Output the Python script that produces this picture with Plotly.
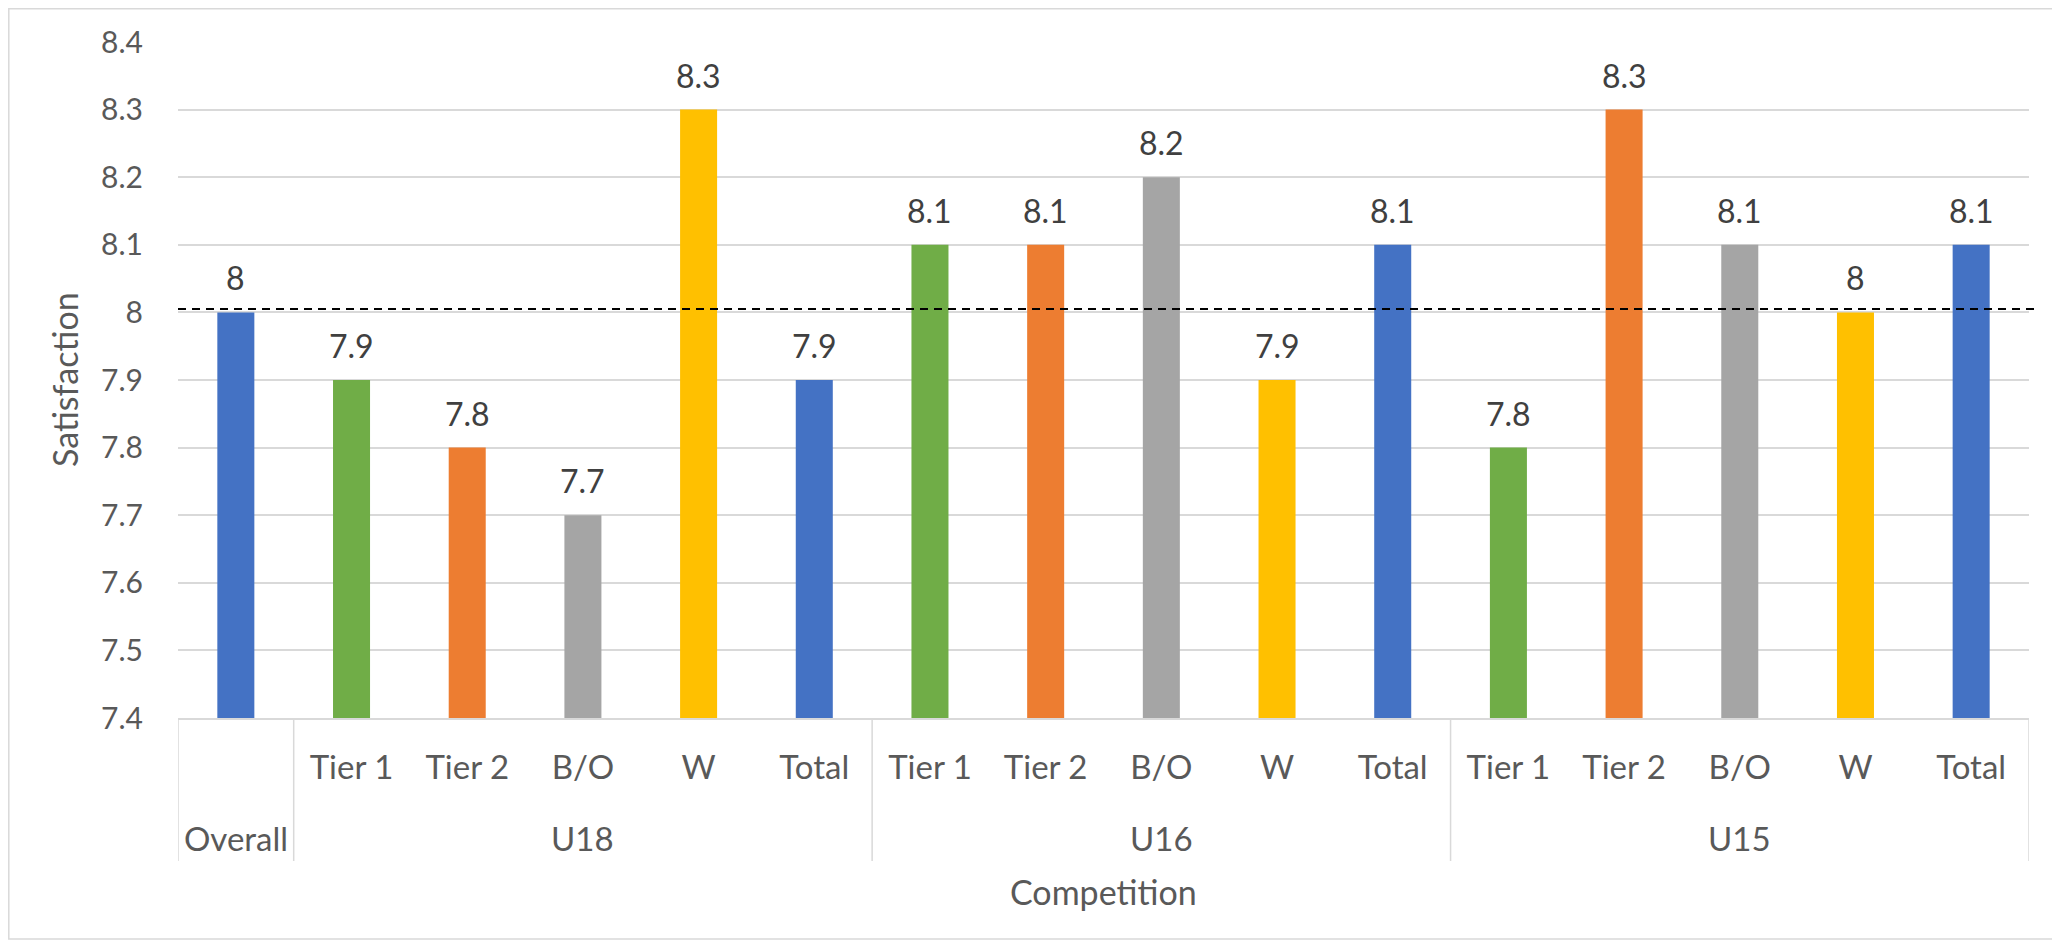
import plotly.graph_objects as go

# ---- data ----
groups = ["Overall", "U18", "U18", "U18", "U18", "U18",
          "U16", "U16", "U16", "U16", "U16",
          "U15", "U15", "U15", "U15", "U15"]
subcats = ["", "Tier 1", "Tier 2", "B/O", "W", "Total",
           "Tier 1", "Tier 2", "B/O", "W", "Total",
           "Tier 1", "Tier 2", "B/O", "W", "Total"]
values = [8.0, 7.9, 7.8, 7.7, 8.3, 7.9,
          8.1, 8.1, 8.2, 7.9, 8.1,
          7.8, 8.3, 8.1, 8.0, 8.1]
value_labels = ["8", "7.9", "7.8", "7.7", "8.3", "7.9",
                "8.1", "8.1", "8.2", "7.9", "8.1",
                "7.8", "8.3", "8.1", "8", "8.1"]
y_tick_vals = [7.4, 7.5, 7.6, 7.7, 7.8, 7.9, 8.0, 8.1, 8.2, 8.3, 8.4]
y_tick_text = ["7.4", "7.5", "7.6", "7.7", "7.8", "7.9", "8", "8.1", "8.2", "8.3", "8.4"]
reference_line = 8.005
y_title = "Satisfaction"
x_title = "Competition"

# ---- styles ----
sub_colors = {"": "#4472C4", "Tier 1": "#70AD47", "Tier 2": "#ED7D31",
              "B/O": "#A5A5A5", "W": "#FFC000", "Total": "#4472C4"}
FONT = "Lato"
TXT = "#595959"
LBL = "#404040"
GRID = "#D9D9D9"

# page has an 8px body margin, so the figure is 8px smaller and offset
OFF = 8
W, H = 2060 - OFF, 942 - OFF
L, T = 178 - OFF, 42 - OFF
R = W - (2029 - OFF)
B = H - (718 - OFF)
pw, ph = W - L - R, H - T - B


def px_x(p):  # page pixel -> paper x
    return (p - OFF - L) / pw


def px_y(p):  # page pixel -> paper y
    return (H - B - (p - OFF)) / ph


xs = list(range(len(values)))
colors = [sub_colors[s] for s in subcats]

fig = go.Figure()
fig.add_trace(go.Bar(
    x=xs, y=values, width=0.32,
    marker=dict(color=colors, line=dict(width=0)),
    showlegend=False, hoverinfo="skip",
))

# data labels
for x, v, t in zip(xs, values, value_labels):
    fig.add_annotation(x=x, y=v, text=t, showarrow=False, yanchor="bottom",
                       yshift=13, font=dict(family=FONT, size=32, color=LBL))

# group labels and dividers
bounds = [0]
for i in range(1, len(groups)):
    if groups[i] != groups[i - 1]:
        bounds.append(i)
bounds.append(len(groups))
for a, b in zip(bounds[:-1], bounds[1:]):
    mid = (a + b - 1) / 2
    fig.add_annotation(x=mid, y=0, xref="x", yref="paper", text=groups[a],
                       showarrow=False, yanchor="middle", yshift=-120,
                       font=dict(family=FONT, size=33, color=TXT))
for bnd in bounds:
    fig.add_shape(type="line", xref="x", yref="paper",
                  x0=bnd - 0.5, x1=bnd - 0.5, y0=0, y1=px_y(861),
                  line=dict(color=GRID, width=1.5))

# reference dashed line
fig.add_shape(type="line", xref="paper", yref="y",
              x0=0, x1=px_x(2040), y0=reference_line, y1=reference_line,
              line=dict(color="black", width=2, dash="8px,6px"))

# outer chart border
fig.add_shape(type="rect", xref="paper", yref="paper",
              x0=px_x(8.8), x1=px_x(2058), y0=px_y(939), y1=px_y(8.8),
              line=dict(color=GRID, width=1.5), fillcolor="rgba(0,0,0,0)")

# axis titles
fig.add_annotation(x=0, y=0.5, xref="paper", yref="paper", text=y_title,
                   showarrow=False, textangle=-90, xshift=64 - 178,
                   xanchor="center", yanchor="middle",
                   font=dict(family=FONT, size=34, color=TXT))
fig.add_annotation(x=0.5, y=0, xref="paper", yref="paper", text=x_title,
                   showarrow=False, yshift=-173, yanchor="middle",
                   font=dict(family=FONT, size=34, color=TXT))

fig.update_layout(
    width=W, height=H,
    margin=dict(l=L, r=R, t=T, b=B, pad=0),
    paper_bgcolor="white", plot_bgcolor="white",
    font=dict(family=FONT, color=TXT),
    xaxis=dict(
        range=[-0.5, len(values) - 0.5],
        tickmode="array", tickvals=xs, ticktext=subcats,
        showgrid=False, zeroline=False,
        showline=True, linecolor=GRID, linewidth=1.5,
        ticks="", ticklabelstandoff=20,
        tickfont=dict(family=FONT, size=33, color=TXT),
    ),
    yaxis=dict(
        range=[7.4, 8.4],
        tickmode="array", tickvals=y_tick_vals, ticktext=y_tick_text,
        showgrid=True, gridcolor=GRID, gridwidth=1.5,
        zeroline=False, showline=False, ticks="",
        ticklabelstandoff=34,
        tickfont=dict(family=FONT, size=30, color=TXT),
    ),
)

fig.write_html("out.html")
